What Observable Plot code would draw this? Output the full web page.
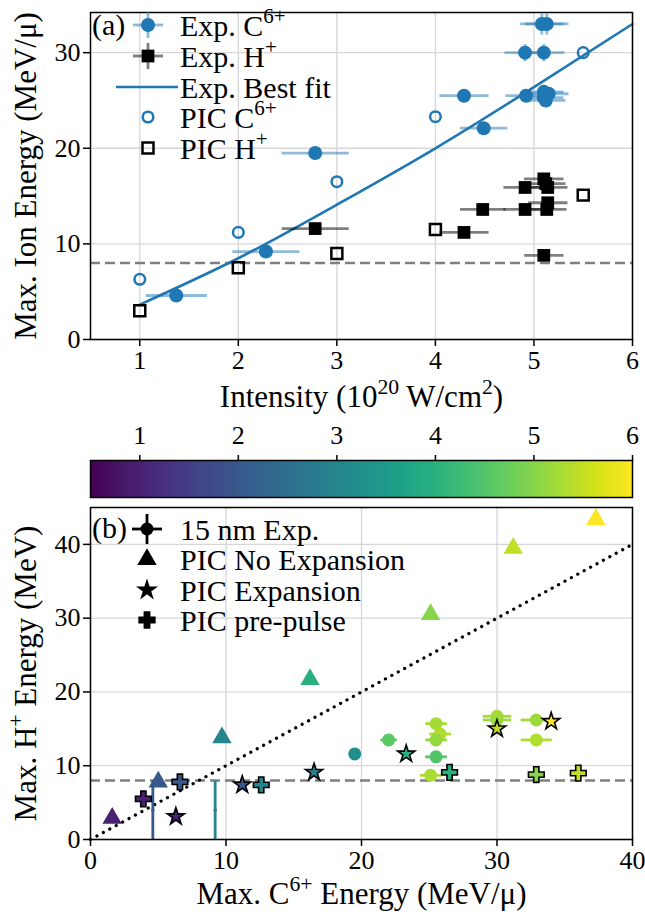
<!DOCTYPE html>
<html><head><meta charset="utf-8">
<script src="https://cdn.jsdelivr.net/npm/d3@7"></script>
<script src="https://cdn.jsdelivr.net/npm/@observablehq/plot@0.6"></script>
<style>
body{margin:0;background:#fff;}
#chart{width:645px;}
#chart svg{display:block;overflow:visible;font-family:'Liberation Serif','Times New Roman',Times,serif;}
</style></head><body><div id="chart"></div>
<script>
// ---------- Panel (a) data ----------
const xTicksA = [1, 2, 3, 4, 5, 6];
const yTicksA = [0, 10, 20, 30];
const picIntensityA = [1, 2, 3, 4, 5.5];
const picCarbonA = [6.3, 11.2, 16.5, 23.3, 30.0];
const picProtonA = [3.0, 7.5, 9.0, 11.5, 15.1];
const expCI    = [1.37, 2.28, 2.78, 4.29, 4.49, 4.91, 5.10, 5.08, 5.13, 4.92, 5.10, 5.15, 5.10, 5.12];
const expCE    = [4.6, 9.2, 19.5, 25.5, 22.1, 30.0, 30.0, 33.0, 33.0, 25.5, 25.9, 25.7, 25.3, 25.0];
const expCIerr = [0.31, 0.34, 0.34, 0.25, 0.24, 0.21, 0.21, 0.22, 0.22, 0.21, 0.2, 0.2, 0.2, 0.2];
const expCEerr = [0.2, 0.3, 0.3, 0.5, 0.4, 0.9, 0.9, 1.1, 1.1, 0.5, 0.5, 0.5, 0.5, 0.5];
const expHI    = [2.78, 4.29, 4.48, 4.91, 4.91, 5.10, 5.14, 5.12, 5.14, 5.13, 5.10];
const expHE    = [11.6, 11.2, 13.6, 15.9, 13.6, 16.8, 15.9, 16.3, 14.3, 13.6, 8.8];
const expHIerr = [0.34, 0.25, 0.23, 0.22, 0.22, 0.2, 0.2, 0.2, 0.2, 0.2, 0.2];
const fitI = [1, 2, 3, 4, 5, 6];
const fitE = [3.65, 8.5, 14.1, 20.0, 26.4, 33.0];
const threshold = 8;

// ---------- Colorbar ----------
const cbTicks = [1, 2, 3, 4, 5, 6];
const intensityDomain = [0.5, 6];

// ---------- Panel (b) data ----------
const xTicksB = [0, 10, 20, 30, 40];
const yTicksB = [0, 10, 20, 30, 40];
const expBC    = [4.6, 9.2, 19.5, 22.0, 25.5, 25.5, 25.8, 25.5, 25.1, 30.0, 30.0, 32.9, 32.9];
const expBH    = [4.0, 4.0, 11.6, 13.5, 11.2, 15.7, 14.3, 13.5, 8.7, 16.7, 16.2, 16.2, 13.5];
const expBI    = [2.0, 3.0, 3.2, 4.6, 4.5, 5.25, 5.35, 5.1, 5.3, 5.25, 5.2, 5.2, 5.35];
const expBCerr = [0, 0, 0.3, 0.6, 0.8, 0.8, 0.8, 0.8, 0.8, 1.05, 1.05, 1.15, 1.15];
const expBHerr = [4.0, 4.0, 0.3, 0.3, 0.3, 0.3, 0.3, 0.3, 0.3, 0.4, 0.4, 0.4, 0.3];
const noExpC = [1.6, 5.0, 9.7, 16.2, 25.1, 31.2, 37.3];
const noExpH = [2.9, 7.8, 13.8, 21.7, 30.5, 39.5, 43.4];
const noExpI = [1, 2, 3, 4, 5, 5.5, 6];
const expanC = [6.3, 11.2, 16.5, 23.3, 30.0, 34.0];
const expanH = [3.1, 7.4, 9.1, 11.6, 15.0, 16.0];
const expanI = [1, 2, 3, 4, 5.5, 6];
const preC = [3.9, 6.6, 12.6, 26.5, 32.9, 36.0];
const preH = [5.5, 7.8, 7.4, 9.1, 8.8, 9.0];
const preI = [1, 2, 3, 4, 5, 5.5];
const diag = [0, 40];

// ---------- helpers ----------
const FONT = "'Liberation Serif', 'Times New Roman', Times, serif";
const FS = 26, LFS = 30, AFS = 31;
const BLUE = "#1f77b4";
const GRID = {stroke: "#d6d6d6", strokeOpacity: 1, strokeWidth: 1.3};
const colorScale = {type: "linear", scheme: "viridis", domain: intensityDomain};
const AX = {tickSize: 7, label: null, strokeWidth: 1.5, fontFamily: FONT, fontSize: FS};

function supify(svg, size) {
  d3.select(svg).selectAll("text").each(function () {
    const txt = this.textContent;
    if (!txt || !txt.includes("^{")) return;
    const t = d3.select(this);
    const fs = parseFloat(getComputedStyle(this).fontSize) || size;
    t.text(null);
    const shift = 0.42 * fs;
    let up = false;
    txt.split(/(\^\{[^}]*\})/).forEach(p => {
      if (!p) return;
      if (p.startsWith("^{")) {
        t.append("tspan").attr("dy", -shift).attr("font-size", (0.7 * fs) + "px").text(p.slice(2, -1));
        up = true;
      } else {
        const ts = t.append("tspan").text(p);
        if (up) { ts.attr("dy", shift); up = false; }
      }
    });
  });
}
function legendText(g, x, y, s) {
  g.append("text").attr("x", x).attr("y", y).attr("dy", "0.35em")
    .attr("text-anchor", "start")
    .attr("font-family", FONT).attr("font-size", LFS).attr("fill", "black").text(s);
}
function sym(type, r) { return d3.symbol(type, r * r * Math.PI)(); }
function svgOf(el) { return el.tagName.toLowerCase() === "svg" ? el : el.querySelector("svg"); }

const chart = document.getElementById("chart");

// ---------- Panel (a) ----------
const expA = expCI.map((I, i) => ({I, E: expCE[i], dI: expCIerr[i], dE: expCEerr[i]}));
const expHA = expHI.map((I, i) => ({I, E: expHE[i], dI: expHIerr[i]}));
const picA = picIntensityA.map((I, i) => ({I, C: picCarbonA[i], H: picProtonA[i]}));
const fitA = fitI.map((I, i) => ({I, E: fitE[i]}));

const plotA = Plot.plot({
  width: 645, height: 415,
  marginLeft: 90, marginRight: 13, marginTop: 12, marginBottom: 76,
  style: {fontFamily: FONT, fontSize: FS + "px", background: "white", color: "black", overflow: "visible"},
  x: {domain: [0.5, 6]},
  y: {domain: [0, 34.2]},
  marks: [
    Plot.gridX(xTicksA, GRID),
    Plot.gridY(yTicksA, GRID),
    Plot.ruleY([threshold], {stroke: "#7f7f7f", strokeWidth: 2.4, strokeDasharray: "10,5"}),
    Plot.line(fitA, {x: "I", y: "E", stroke: BLUE, strokeWidth: 2.6, curve: "natural"}),
    Plot.link(expA, {x1: d => d.I - d.dI, x2: d => d.I + d.dI, y1: "E", y2: "E", stroke: BLUE, strokeOpacity: 0.5, strokeWidth: 2.8}),
    Plot.link(expA, {x1: "I", x2: "I", y1: d => d.E - d.dE, y2: d => d.E + d.dE, stroke: BLUE, strokeOpacity: 0.5, strokeWidth: 2.8}),
    Plot.link(expHA, {x1: d => d.I - d.dI, x2: d => d.I + d.dI, y1: "E", y2: "E", stroke: "black", strokeOpacity: 0.5, strokeWidth: 2.8}),
    Plot.dot(expA, {x: "I", y: "E", r: 7, fill: BLUE}),
    Plot.dot(expHA, {x: "I", y: "E", r: 7.2, symbol: "square", fill: "black"}),
    Plot.dot(picA, {x: "I", y: "C", r: 5.3, stroke: BLUE, strokeWidth: 2.5, fill: "none"}),
    Plot.dot(picA, {x: "I", y: "H", r: 6.2, symbol: "square", stroke: "black", strokeWidth: 2.5, fill: "none"}),
    Plot.frame({stroke: "black", strokeWidth: 1.5}),
    Plot.axisX(xTicksA, {...AX, tickPadding: 4}),
    Plot.axisY(yTicksA, {...AX, tickPadding: 3}),
    Plot.text(["Intensity (10^{20} W/cm^{2})"], {text: d => d, frameAnchor: "bottom", textAnchor: "middle", lineAnchor: "middle", dy: 58, fontSize: AFS, fontFamily: FONT}),
    Plot.text(["Max. Ion Energy (MeV/μ)"], {text: d => d, frameAnchor: "left", textAnchor: "middle", lineAnchor: "middle", dx: -64, rotate: -90, fontSize: AFS, fontFamily: FONT})
  ]
});
chart.appendChild(plotA);
{
  const svg = svgOf(plotA);
  const g = d3.select(svg).append("g");
  const rows = [25, 56, 87, 117, 148];
  const mx = 148, tx = 180;
  legendText(g, 92, 24, "(a)");
  g.append("line").attr("x1", mx - 15).attr("x2", mx + 15).attr("y1", rows[0]).attr("y2", rows[0]).attr("stroke", BLUE).attr("stroke-opacity", 0.5).attr("stroke-width", 2.8);
  g.append("line").attr("x1", mx).attr("x2", mx).attr("y1", rows[0] - 13).attr("y2", rows[0] + 13).attr("stroke", BLUE).attr("stroke-opacity", 0.5).attr("stroke-width", 2.8);
  g.append("circle").attr("cx", mx).attr("cy", rows[0]).attr("r", 7).attr("fill", BLUE);
  legendText(g, tx, rows[0], "Exp. C^{6+}");
  g.append("line").attr("x1", mx - 15).attr("x2", mx + 15).attr("y1", rows[1]).attr("y2", rows[1]).attr("stroke", "black").attr("stroke-opacity", 0.5).attr("stroke-width", 2.8);
  g.append("line").attr("x1", mx).attr("x2", mx).attr("y1", rows[1] - 13).attr("y2", rows[1] + 13).attr("stroke", "black").attr("stroke-opacity", 0.5).attr("stroke-width", 2.8);
  g.append("path").attr("transform", `translate(${mx},${rows[1]})`).attr("d", sym(d3.symbolSquare, 7.2)).attr("fill", "black");
  legendText(g, tx, rows[1], "Exp. H^{+}");
  g.append("line").attr("x1", 116).attr("x2", 178).attr("y1", rows[2]).attr("y2", rows[2]).attr("stroke", BLUE).attr("stroke-width", 2.6);
  legendText(g, tx, rows[2], "Exp. Best fit");
  g.append("circle").attr("cx", mx).attr("cy", rows[3]).attr("r", 5.3).attr("fill", "none").attr("stroke", BLUE).attr("stroke-width", 2.5);
  legendText(g, tx, rows[3], "PIC C^{6+}");
  g.append("path").attr("transform", `translate(${mx},${rows[4]})`).attr("d", sym(d3.symbolSquare, 6.2)).attr("fill", "none").attr("stroke", "black").attr("stroke-width", 2.5);
  legendText(g, tx, rows[4], "PIC H^{+}");
  supify(svg, LFS);
}

// ---------- Colorbar ----------
const cbSteps = d3.range(0, 550).map(i => intensityDomain[0] + i * 0.01);
const plotCB = Plot.plot({
  width: 645, height: 85,
  marginLeft: 90, marginRight: 13, marginTop: 45, marginBottom: 3,
  style: {fontFamily: FONT, fontSize: FS + "px", background: "white", color: "black", overflow: "visible"},
  x: {domain: intensityDomain},
  y: {domain: [0, 1], axis: null},
  color: colorScale,
  marks: [
    Plot.rect(cbSteps, {x1: d => d, x2: d => Math.min(d + 0.013, intensityDomain[1]), y1: 0, y2: 1, fill: d => d + 0.005, shapeRendering: "crispEdges"}),
    Plot.frame({stroke: "black", strokeWidth: 1.5}),
    Plot.axisX(cbTicks, {...AX, anchor: "top", tickSize: 6, tickPadding: 11})
  ]
});
chart.appendChild(plotCB);

// ---------- Panel (b) ----------
const expB = expBC.map((C, i) => ({C, H: expBH[i], I: expBI[i], dC: expBCerr[i], dH: expBHerr[i]}));
const noExpB = noExpC.map((C, i) => ({C, H: noExpH[i], I: noExpI[i]}));
const expanB = expanC.map((C, i) => ({C, H: expanH[i], I: expanI[i]}));
const preB = preC.map((C, i) => ({C, H: preH[i], I: preI[i]}));

const plotB = Plot.plot({
  width: 645, height: 421,
  marginLeft: 90, marginRight: 13, marginTop: 7, marginBottom: 82,
  style: {fontFamily: FONT, fontSize: FS + "px", background: "white", color: "black", overflow: "visible"},
  x: {domain: [0, 40]},
  y: {domain: [0, 45]},
  color: colorScale,
  marks: [
    Plot.gridX(xTicksB, GRID),
    Plot.gridY(yTicksB, GRID),
    Plot.ruleY([threshold], {stroke: "#7f7f7f", strokeWidth: 2.4, strokeDasharray: "10,5"}),
    Plot.line(diag, {x: d => d, y: d => d, stroke: "black", strokeWidth: 3.2, strokeDasharray: "0.1,7.2", strokeLinecap: "round"}),
    Plot.link(expB.filter(d => d.dC > 0), {x1: d => d.C - d.dC, x2: d => d.C + d.dC, y1: "H", y2: "H", stroke: "I", strokeWidth: 2.8}),
    Plot.link(expB, {x1: "C", x2: "C", y1: d => d.H - d.dH, y2: d => d.H + d.dH, stroke: "I", strokeWidth: 2.8}),
    Plot.dot(expB.filter(d => d.dH > 2), {x: "C", y: "H", r: 1.8, fill: "I"}),
    Plot.dot(expB.filter(d => d.dH <= 2), {x: "C", y: "H", r: 6.5, fill: "I"}),
    Plot.dot(noExpB, {x: "C", y: "H", r: 7.2, symbol: "triangle", fill: "I"}),
    Plot.dot(expanB, {x: "C", y: "H", r: 5.4, symbol: "star", fill: "I", stroke: "black", strokeWidth: 1.6}),
    Plot.dot(preB, {x: "C", y: "H", r: 6.6, symbol: "cross", fill: "I", stroke: "black", strokeWidth: 1.6}),
    Plot.frame({stroke: "black", strokeWidth: 1.5}),
    Plot.axisX(xTicksB, {...AX, tickPadding: 4}),
    Plot.axisY(yTicksB, {...AX, tickPadding: 3}),
    Plot.text(["Max. C^{6+} Energy (MeV/μ)"], {text: d => d, frameAnchor: "bottom", textAnchor: "middle", lineAnchor: "middle", dy: 55, fontSize: AFS, fontFamily: FONT}),
    Plot.text(["Max. H^{+} Energy (MeV)"], {text: d => d, frameAnchor: "left", textAnchor: "middle", lineAnchor: "middle", dx: -64, rotate: -90, fontSize: AFS, fontFamily: FONT})
  ]
});
chart.appendChild(plotB);
{
  const svg = svgOf(plotB);
  const g = d3.select(svg).append("g");
  const rows = [29, 59.5, 90, 120];
  const mx = 147, tx = 180;
  legendText(g, 92, 27, "(b)");
  g.append("line").attr("x1", mx - 15).attr("x2", mx + 15).attr("y1", rows[0]).attr("y2", rows[0]).attr("stroke", "black").attr("stroke-width", 2.8);
  g.append("line").attr("x1", mx).attr("x2", mx).attr("y1", rows[0] - 15).attr("y2", rows[0] + 15).attr("stroke", "black").attr("stroke-width", 2.8);
  g.append("circle").attr("cx", mx).attr("cy", rows[0]).attr("r", 6.5).attr("fill", "black");
  legendText(g, tx, rows[0], "15 nm Exp.");
  g.append("path").attr("transform", `translate(${mx},${rows[1]})`).attr("d", sym(d3.symbolTriangle, 7.2)).attr("fill", "black");
  legendText(g, tx, rows[1], "PIC No Expansion");
  g.append("path").attr("transform", `translate(${mx},${rows[2]})`).attr("d", sym(d3.symbolStar, 5.4)).attr("fill", "black").attr("stroke", "black").attr("stroke-width", 1.6);
  legendText(g, tx, rows[2], "PIC Expansion");
  g.append("path").attr("transform", `translate(${mx},${rows[3]})`).attr("d", sym(d3.symbolCross, 6.6)).attr("fill", "black").attr("stroke", "black").attr("stroke-width", 1.6);
  legendText(g, tx, rows[3], "PIC pre-pulse");
  supify(svg, LFS);
}
</script>
</body></html>
